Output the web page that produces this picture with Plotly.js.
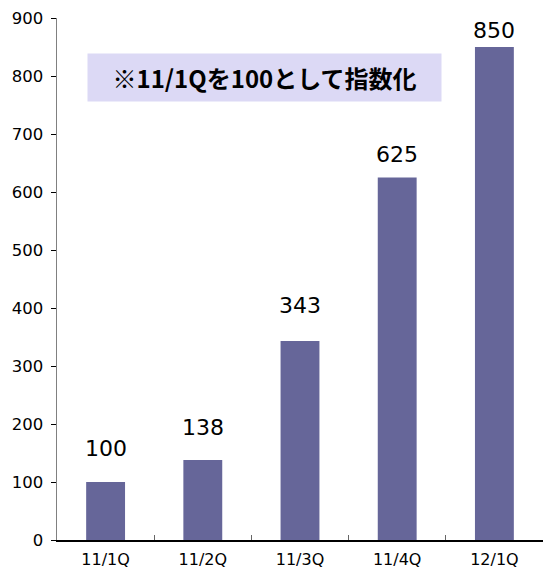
<!DOCTYPE html>
<html><head><meta charset="utf-8">
<script src="https://cdn.plot.ly/plotly-3.0.1.min.js"></script>
<style>html,body{margin:0;padding:0;background:#fff}#chart{width:544px;height:570px}</style>
</head><body><div id="chart"></div>
<script>
const categories = ["11/1Q","11/2Q","11/3Q","11/4Q","12/1Q"];
const values = [100,138,343,625,850];
const labelShift = [34,32,36,23,17];
const noteText = "※11/1Qを100として指数化";

const font = "DejaVu Sans, sans-serif";
const annotations = categories.map((c,i)=>({
  x:c, y:values[i], xref:'x', yref:'y', text:String(values[i]),
  showarrow:false, yanchor:'middle', yshift:labelShift[i],
  font:{family:font,size:22,color:'#000'}
}));
annotations.push({
  xref:'paper', yref:'paper', x:0.427, y:0.886, xanchor:'center', yanchor:'middle',
  text:'<b>'+noteText+'</b>', showarrow:false,
  font:{family:"Noto Sans CJK JP, sans-serif", size:24, color:'#000'},
  bgcolor:'#dcd9f5', width:351, height:45
});
const data = [{
  type:'bar', x:categories, y:values, marker:{color:'#666699'}, width:0.4,
  hoverinfo:'none'
}];
const layout = {
  width:544, height:570,
  margin:{l:57,r:1,t:18,b:30},
  paper_bgcolor:'#fff', plot_bgcolor:'#fff',
  showlegend:false,
  font:{family:font,size:16,color:'#000'},
  xaxis:{type:'category', showline:true, linecolor:'#000', linewidth:1.5,
    ticks:'inside', tickson:'boundaries', ticklen:5, tickcolor:'#666',
    showgrid:false, zeroline:false, tickfont:{size:16}, ticklabelstandoff:4},
  yaxis:{range:[0,900], dtick:100, showline:true, linecolor:'#808080', linewidth:1.5,
    ticks:'outside', ticklen:5, tickcolor:'#000', showgrid:false, zeroline:false,
    tickfont:{size:16.5}, ticklabelstandoff:4},
  annotations:annotations
};
Plotly.newPlot('chart', data, layout, {staticPlot:true});
</script></body></html>
